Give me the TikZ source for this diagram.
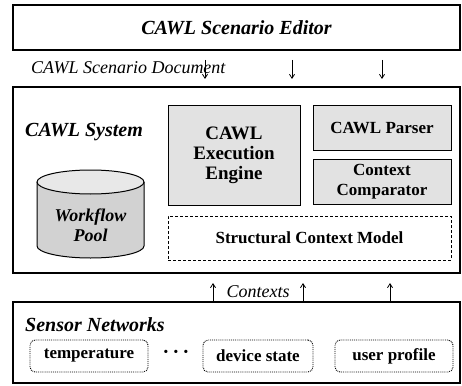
\documentclass[tikz,border=0pt]{standalone}
\usepackage{fontspec}
\setmainfont{Liberation Serif}
\newfontfamily\cawlrm{Liberation Serif}
\usetikzlibrary{arrows.meta}
\definecolor{boxgray}{HTML}{E2E2E2}
\definecolor{cylbody}{HTML}{D2D2D2}
\definecolor{cyltop}{HTML}{E8E8E8}
\begin{document}
\begin{tikzpicture}[x=1pt,y=-1pt,
  frame/.style={draw, line width=1.6pt, minimum width=447pt, inner sep=0pt},
  module/.style={draw, line width=1pt, fill=boxgray, inner sep=0pt, align=center,
    font=\cawlrm\fontsize{17}{20}\selectfont\bfseries},
  sensorbox/.style={draw, densely dotted, line width=0.9pt, rounded corners=5pt,
    minimum width=118pt, minimum height=32pt, inner sep=0pt,
    font=\cawlrm\fontsize{17}{20}\selectfont\bfseries},
  heading/.style={font=\cawlrm\fontsize{20}{22}\selectfont\bfseries\itshape, inner sep=0pt},
  flow/.style={-{Straight Barb[length=4pt,width=5pt]}, line width=0.8pt}
]
\useasboundingbox (0,0) rectangle (462,385);

% editor at the top
\node[frame, line width=1.2pt, minimum height=45pt,
  font=\cawlrm\fontsize{20}{22}\selectfont\bfseries\itshape] (editor) at (236.5,27.5)
  {CAWL Scenario Editor};

% document label and the arrows into the system
\node[anchor=west, inner sep=0pt, font=\cawlrm\fontsize{18}{20}\selectfont\itshape]
  (doc) at (31,68) {CAWL Scenario Document};
\coordinate (d1a) at (205,60); \coordinate (d1b) at (205,79);
\coordinate (d2a) at (292,60); \coordinate (d2b) at (292,79);
\coordinate (d3a) at (382,60); \coordinate (d3b) at (382,79);
\draw[flow] (d1a) -- (d1b);
\draw[flow] (d2a) -- (d2b);
\draw[flow] (d3a) -- (d3b);

% the system frame and its parts
\node[frame, line width=2pt, minimum height=186pt] (system) at (236.5,180) {};
\node[heading, anchor=west] (systitle) at (25,132) {CAWL System};

% workflow pool drawn as a cylinder
\node[minimum width=107pt, minimum height=88pt, inner sep=0pt] (pool) at (90.5,214) {};
\fill[cylbody] (37,182) -- (37,246)
  arc[start angle=180, end angle=0, x radius=53.5, y radius=12] -- (144,182) -- cycle;
\draw[line width=1pt] (37,182) -- (37,246)
  arc[start angle=180, end angle=0, x radius=53.5, y radius=12] -- (144,182);
\filldraw[line width=1pt, fill=cyltop] (90.5,182) ellipse[x radius=53.5, y radius=12];
\node[align=center, inner sep=0pt,
  font=\cawlrm\fontsize{18}{20}\selectfont\bfseries\itshape]
  (pooltext) at (90.5,225) {Workflow\\Pool};

\node[module, minimum width=132pt, minimum height=100pt,
  font=\cawlrm\fontsize{19}{20}\selectfont\bfseries] (engine) at (234,155)
  {CAWL\\Execution\\Engine};
\node[module, minimum width=138pt, minimum height=45pt] (parser) at (382,127.5)
  {CAWL Parser};
\node[module, minimum width=138pt, minimum height=45pt] (comparator) at (382,181.5)
  {Context\\Comparator};
\node[module, fill=white, densely dashed, minimum width=283pt, minimum height=44pt]
  (model) at (309.5,238) {Structural Context Model};

% contexts flowing up from the sensors
\coordinate (u1a) at (213,301); \coordinate (u1b) at (213,283);
\coordinate (u2a) at (303,301); \coordinate (u2b) at (303,283);
\coordinate (u3a) at (390,301); \coordinate (u3b) at (390,283);
\draw[flow] (u1a) -- (u1b);
\draw[flow] (u2a) -- (u2b);
\draw[flow] (u3a) -- (u3b);
\node[inner sep=0pt, font=\cawlrm\fontsize{18}{20}\selectfont\itshape] (ctx) at (258,292) {Contexts};

% sensor networks
\node[frame, line width=1.4pt, minimum height=81pt] (sensors) at (236.5,342.5) {};
\node[heading, anchor=west] (sentitle) at (25,325) {Sensor Networks};
\node[sensorbox] (temp) at (89,356) {temperature};
\node[inner sep=0pt, font=\cawlrm\fontsize{20}{20}\selectfont\bfseries] (dots) at (176,354) {·\,·\,·};
\node[sensorbox, minimum width=110pt] (device) at (258,356) {device state};
\node[sensorbox] (user) at (394,356) {user profile};
\end{tikzpicture}
\end{document}
